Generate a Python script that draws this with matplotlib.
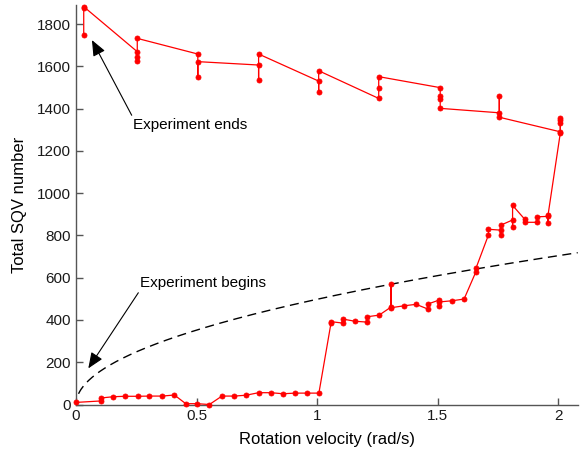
import matplotlib.pyplot as plt
import numpy as np

plt.rcParams["font.family"] = ["Liberation Sans", "DejaVu Sans"]

# Measured trajectory, in acquisition order: ramp up along the bottom,
# then step back down in velocity along the top branch.
velocity = [
    0.0,
    0.104, 0.104,
    0.155, 0.203, 0.256, 0.304, 0.357, 0.408, 0.455, 0.503, 0.553,
    0.605, 0.656, 0.705, 0.757, 0.808, 0.858, 0.909, 0.957, 1.007,
    1.057, 1.057,
    1.108, 1.108,
    1.156,
    1.206, 1.206,
    1.257,
    1.306, 1.306, 1.306,
    1.360, 1.410,
    1.458, 1.458,
    1.505, 1.505, 1.505,
    1.560, 1.609,
    1.658, 1.658,
    1.710, 1.710,
    1.760, 1.760, 1.760,
    1.810, 1.810, 1.810,
    1.860, 1.860,
    1.912, 1.912,
    1.957, 1.957, 1.957,
    2.008, 2.008, 2.008, 2.008, 2.008,
    1.755, 1.755, 1.755,
    1.510, 1.510, 1.510, 1.510,
    1.255, 1.255, 1.255,
    1.006, 1.006, 1.006,
    0.757, 0.757, 0.757,
    0.505, 0.505, 0.505,
    0.254, 0.254, 0.254, 0.254,
    0.032, 0.032, 0.032,
]

sqv_count = [
    10,
    17, 31,
    37, 39, 39, 40, 40, 45, 4, 4, 0,
    40, 40, 44, 56, 56, 51, 54, 54, 54,
    384, 392,
    385, 404,
    394,
    390, 415,
    423,
    461, 570, 458,
    467, 474,
    452, 475,
    494, 467, 485,
    491, 499,
    628, 644,
    802, 829,
    825, 800, 848,
    873, 841, 942,
    877, 862,
    862, 888,
    890, 858, 896,
    1285, 1354, 1346, 1330, 1290,
    1359, 1459, 1380,
    1401, 1444, 1459, 1499,
    1551, 1496, 1448,
    1579, 1480, 1530,
    1658, 1535, 1606,
    1622, 1548, 1658,
    1732, 1626, 1645, 1669,
    1882, 1875, 1749,
]

# Reference curve ~ sqrt(velocity)
ref_coeff = 498
x_ref = np.linspace(0, 2.08, 400)
y_ref = ref_coeff * np.sqrt(x_ref)

fig = plt.figure(figsize=(5.82, 4.53), dpi=100)
ax = fig.add_axes([0.1306, 0.107, 0.862, 0.882])

ax.plot(x_ref[2:], y_ref[2:], color="black", lw=1.0, dashes=(6.5, 4))
ax.plot(velocity, sqv_count, color="red", lw=0.9, marker="o", ms=3.6,
        mew=0.6, mec="red", mfc="red", clip_on=False, zorder=3)

ax.annotate("Experiment ends", xy=(0.066, 1724), xytext=(0.237, 1322),
            fontsize=11, va="center", ha="left",
            arrowprops=dict(arrowstyle="-|>,head_length=0.6,head_width=0.25",
                            color="black", lw=0.8,
                            mutation_scale=16, shrinkA=0, shrinkB=0,
                            relpos=(0.0, 1.0)))
ax.annotate("Experiment begins", xy=(0.051, 171), xytext=(0.266, 575),
            fontsize=11, va="center", ha="left",
            arrowprops=dict(arrowstyle="-|>,head_length=0.6,head_width=0.25",
                            color="black", lw=0.8,
                            mutation_scale=16, shrinkA=0, shrinkB=0,
                            relpos=(0.0, 0.0)))

ax.set_xlim(0, 2.08)
ax.set_ylim(0, 1890)
ax.set_xticks([0, 0.5, 1, 1.5, 2])
ax.set_xticklabels(["0", "0.5", "1", "1.5", "2"])
ax.set_yticks(np.arange(0, 1801, 200))

for side in ("top", "right"):
    ax.spines[side].set_visible(False)
for side in ("left", "bottom"):
    ax.spines[side].set_color("#555555")
    ax.spines[side].set_linewidth(1.0)
ax.tick_params(direction="in", length=5, width=1, color="#555555",
               labelsize=11, labelcolor="#1a1a1a")

ax.set_xlabel("Rotation velocity (rad/s)", fontsize=12, labelpad=6)
ax.set_ylabel("Total SQV number", fontsize=12, labelpad=7)

fig.savefig("out.png", dpi=100)
